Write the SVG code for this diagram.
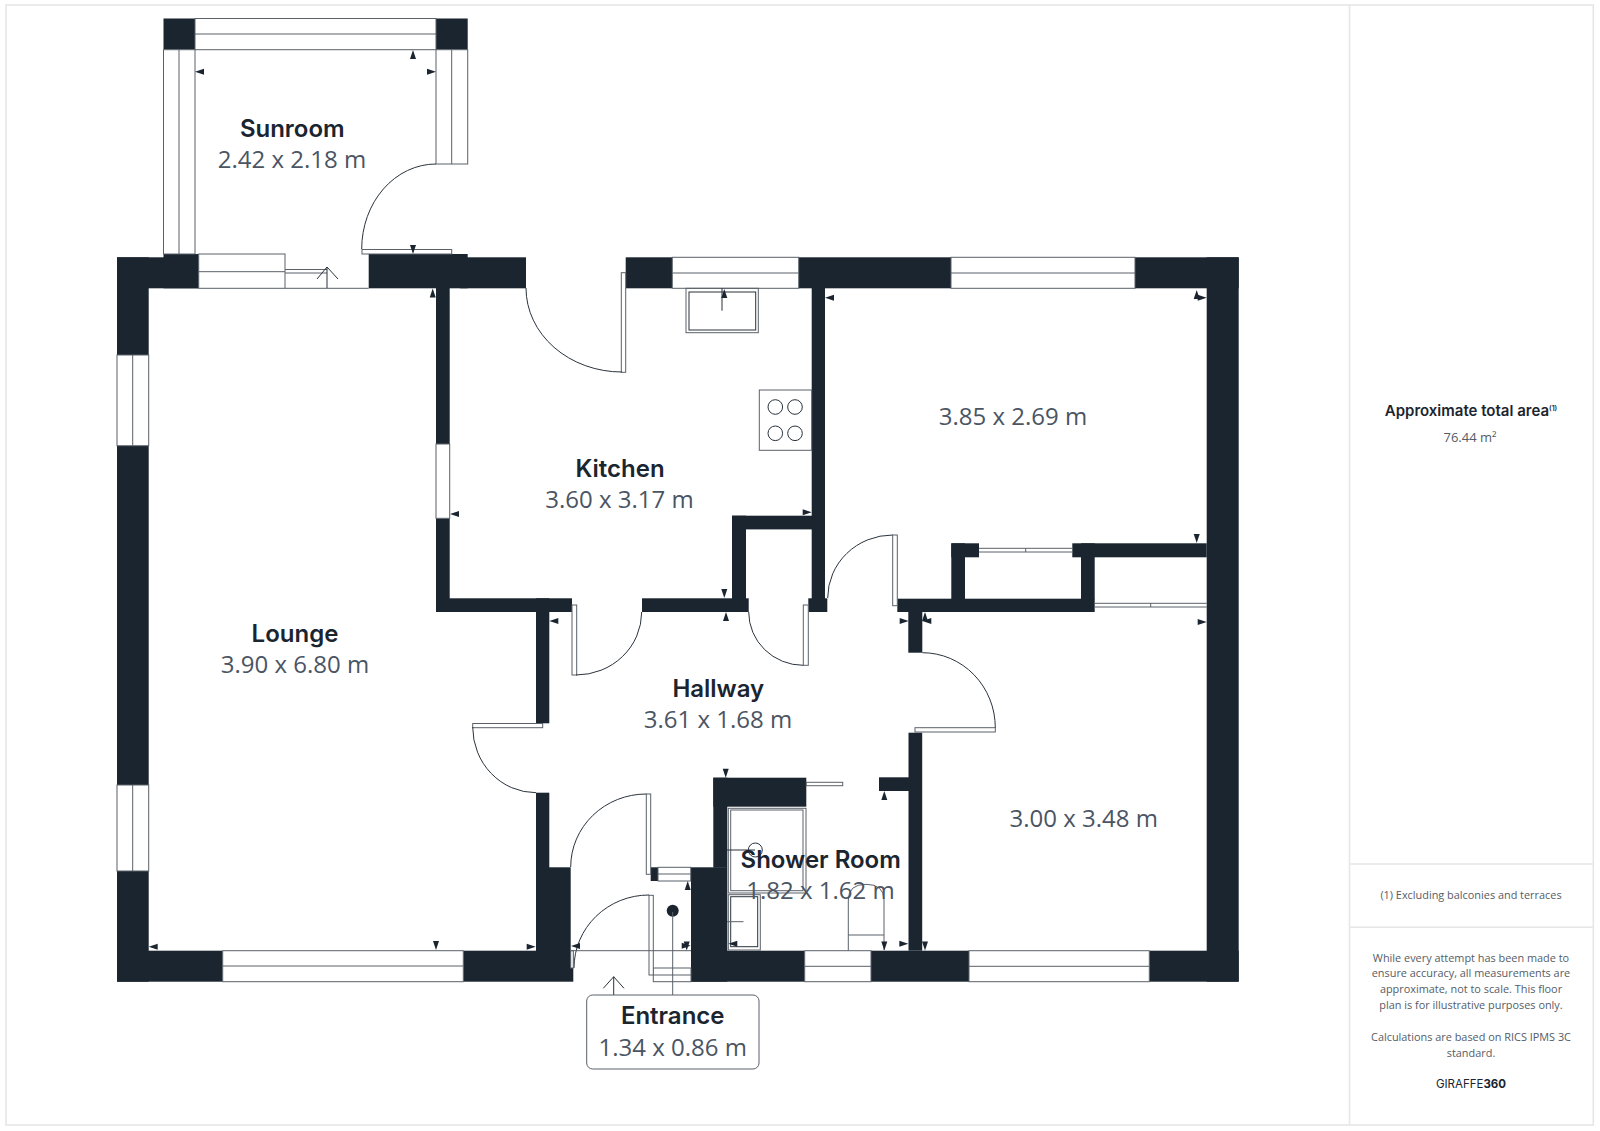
<svg xmlns="http://www.w3.org/2000/svg" width="1600" height="1131" viewBox="0 0 1600 1131">
<style>
.w{fill:#1b2530}
.g{fill:#fff;stroke:#5a6169;stroke-width:1}
.m{fill:none;stroke:#5a6169;stroke-width:1}
.l{fill:none;stroke:#2a333d;stroke-width:1}
.f{fill:none;stroke:#e6e6e6;stroke-width:1.6}
.a{fill:#1b2530}
.t{font-family:"Inter","Liberation Sans",sans-serif;font-weight:600;font-size:24px;fill:#1b2530;text-anchor:middle}
.d{font-family:"Open Sans","Liberation Sans",sans-serif;font-size:24px;fill:#4b5563;text-anchor:middle}
.s{font-family:"Open Sans","Liberation Sans",sans-serif;font-size:10.9px;fill:#555c66;text-anchor:middle}
</style>
<defs><path id="ar" d="M0 0L9 -3V3Z"/></defs>
<rect width="1600" height="1131" fill="#fff"/>
<g id="frame">
<rect class="f" x="6" y="5" width="1587.3" height="1120"/>
<path class="f" d="M1349.5 5V1125M1349.5 864H1593M1349.5 927.3H1593"/>
</g>
<g id="walls">
<rect class="w" x="117" y="257.3" width="31.7" height="97.7"/>
<rect class="w" x="117" y="445.7" width="31.7" height="339.3"/>
<rect class="w" x="117" y="871" width="31.7" height="110.7"/>
<rect class="w" x="117" y="257.3" width="81.7" height="31"/>
<rect class="w" x="163.5" y="254" width="35.2" height="34.3"/>
<rect class="w" x="368.7" y="254" width="99" height="34.3"/>
<rect class="w" x="460" y="257.3" width="66" height="31"/>
<rect class="w" x="625.7" y="257.3" width="46.6" height="31"/>
<rect class="w" x="798.7" y="257.3" width="152.3" height="31"/>
<rect class="w" x="1135" y="257.3" width="103.7" height="31"/>
<rect class="w" x="1206.7" y="257.3" width="32" height="724.4"/>
<rect class="w" x="117" y="950.7" width="105.7" height="31"/>
<rect class="w" x="463.3" y="950.7" width="110" height="31"/>
<rect class="w" x="691" y="867.3" width="36.3" height="114.4"/>
<rect class="w" x="691" y="950.7" width="113.7" height="31"/>
<rect class="w" x="871" y="950.7" width="98" height="31"/>
<rect class="w" x="1149.3" y="950.7" width="89.4" height="31"/>
<rect class="w" x="436" y="288" width="13.7" height="156"/>
<rect class="w" x="436" y="518.3" width="13.7" height="93.7"/>
<rect class="w" x="436" y="598.3" width="136" height="13.7"/>
<rect class="w" x="536" y="598.3" width="13.3" height="125"/>
<rect class="w" x="536" y="792.7" width="13.3" height="160"/>
<rect class="w" x="545" y="867.3" width="25.7" height="85"/>
<rect class="w" x="642" y="598.3" width="106.7" height="13.7"/>
<rect class="w" x="732" y="515.7" width="14" height="96"/>
<rect class="w" x="732" y="515.7" width="80" height="13.7"/>
<rect class="w" x="811.7" y="288" width="13.3" height="312"/>
<rect class="w" x="808.3" y="598.3" width="19" height="13.7"/>
<rect class="w" x="897.3" y="598.7" width="197.4" height="13.3"/>
<rect class="w" x="951.3" y="543.3" width="13.7" height="56"/>
<rect class="w" x="951.3" y="543.3" width="27.7" height="14"/>
<rect class="w" x="1072.3" y="543.3" width="134.4" height="14"/>
<rect class="w" x="1081" y="543.3" width="13.7" height="56"/>
<rect class="w" x="908.3" y="612" width="14" height="40.7"/>
<rect class="w" x="908.5" y="732.7" width="13.7" height="218"/>
<rect class="w" x="879" y="777.3" width="30" height="13.7"/>
<rect class="w" x="713.3" y="777.7" width="14" height="90"/>
<rect class="w" x="713.3" y="777.7" width="93" height="29"/>
<rect class="w" x="650.7" y="867.3" width="7.3" height="13.7"/>
<rect class="w" x="163.5" y="18.5" width="31.5" height="31.2"/>
<rect class="w" x="436" y="18.5" width="31.7" height="31.2"/>
</g>
<g id="windows">
<rect class="g" x="195" y="18.5" width="241" height="31.2"/><path class="m" d="M195 34H436"/>
<rect class="g" x="163.5" y="49.7" width="31.5" height="204.3"/><path class="m" d="M179 49.7V254"/>
<rect class="g" x="436" y="49.7" width="31.7" height="114.3"/><path class="m" d="M451.7 49.7V164"/>
<rect class="g" x="198.7" y="254" width="86.3" height="34.3"/><path class="m" d="M198.7 271.7H285"/>
<rect class="g" x="672.3" y="257.3" width="126.4" height="31"/><path class="m" d="M672.3 273H798.7"/>
<rect class="g" x="951" y="257.3" width="184" height="31"/><path class="m" d="M951 273H1135"/>
<rect class="g" x="117" y="355" width="31.7" height="90.7"/><path class="m" d="M132.7 355V445.7"/>
<rect class="g" x="117" y="785" width="31.7" height="86"/><path class="m" d="M132.7 785V871"/>
<rect class="g" x="436" y="444" width="13.7" height="74.3"/>
<rect class="g" x="222.7" y="950.7" width="240.6" height="31"/><path class="m" d="M222.7 966H463.3"/>
<rect class="g" x="804.7" y="950.7" width="66.3" height="31"/><path class="m" d="M804.7 966.3H871"/>
<rect class="g" x="969" y="950.7" width="180.3" height="31"/><path class="m" d="M969 966.3H1149.3"/>
<rect class="g" x="658" y="867.3" width="32.7" height="13.7"/><path class="m" d="M658 874H690.7"/>
<rect class="g" x="653.3" y="968" width="37.7" height="13.7"/><path class="m" d="M653.3 975H691"/>
</g>
<g id="doors">
<rect class="g" x="362" y="249.5" width="89.7" height="4.5"/><path class="l" d="M436 164A74.3 85 0 0 0 361.7 249"/>
<rect class="g" x="621.3" y="272.7" width="4.4" height="99.6"/><path class="l" d="M526 288A96 84 0 0 0 622 372"/>
<rect class="g" x="572" y="605" width="4.7" height="70"/><path class="l" d="M576 675A65.7 63 0 0 0 641.7 612"/>
<rect class="g" x="803.3" y="605" width="5" height="60.3"/><path class="l" d="M803.3 665.3A54.6 53.3 0 0 1 748.7 612"/>
<rect class="g" x="892.7" y="535" width="4.6" height="70.7"/><path class="l" d="M892.7 535A65 63 0 0 0 827.7 598"/>
<rect class="g" x="915" y="727.7" width="80.3" height="4.3"/><path class="l" d="M922.3 652.7A73 75 0 0 1 995.3 727.7"/>
<rect class="g" x="472.7" y="723.5" width="70" height="4.2"/><path class="l" d="M472.7 727A63.3 65.7 0 0 0 536 792.7"/>
<rect class="g" x="646.3" y="794" width="4.4" height="80.3"/><path class="l" d="M646.3 794A75.6 73 0 0 0 570.7 867"/>
<rect class="g" x="649" y="895.3" width="4.3" height="79.7"/><path class="l" d="M649 895A75 73 0 0 0 574 968"/>
<rect class="g" x="570.7" y="950.7" width="2.6" height="17.3"/>
<rect class="g" x="806.3" y="782.3" width="36.4" height="3.4"/>
<path class="m" d="M979 548.3H1072.3M979 552H1072.3M1025.7 548.3V552"/>
<path class="m" d="M1094.7 603.3H1206.7M1094.7 607H1206.7M1150.7 603.3V607"/>
<path class="m" d="M285 269.5H327M285 273H327M285 288.3H368.7M570.7 950.7H691"/>
<path class="l" d="M327 288V267M317 279L327 267L338 279"/>
<path class="l" d="M613.7 995V976.7M603.3 988.3L613.7 976.7L624 988.3"/>
</g>
<g id="fixtures">
<rect class="m" x="686" y="288.3" width="72.3" height="44.4"/>
<rect class="l" x="689" y="292" width="66.7" height="38"/>
<path class="l" d="M722 288V310.7"/>
<rect class="m" x="759.3" y="390" width="52.4" height="60.3"/>
<g class="l"><circle cx="775.3" cy="407" r="7.3"/><circle cx="795" cy="407" r="7.3"/><circle cx="775.3" cy="433.3" r="7.3"/><circle cx="795" cy="433.3" r="7.3"/></g>
<rect class="m" x="728.3" y="808.3" width="77.7" height="84.7"/>
<rect class="m" x="730.7" y="810" width="72.3" height="80.7"/>
<circle class="l" cx="755.3" cy="850" r="7"/><path class="l" d="M727 850H755"/>
<rect class="m" x="728.3" y="894.7" width="32" height="55.3"/>
<rect class="l" x="730.7" y="896.7" width="27" height="50"/>
<path class="m" d="M727 921.7H743.5"/>
<path class="m" d="M848.3 950.7V900Q848.3 884.3 866 884.3Q884 884.3 884 900V950M848.3 935H884"/>
<circle class="a" cx="672.7" cy="910.7" r="6"/>
<path class="m" d="M672.7 912V995"/>
</g>
<g id="dimension-arrows" class="a">
<use href="#ar" transform="translate(195 71.7)"/>
<use href="#ar" transform="translate(436 71.7) rotate(180)"/>
<use href="#ar" transform="translate(413 50) rotate(90)"/>
<use href="#ar" transform="translate(413 254) rotate(-90)"/>
<use href="#ar" transform="translate(432.7 288.6) rotate(90)"/>
<use href="#ar" transform="translate(148.7 946.7)"/>
<use href="#ar" transform="translate(535.7 946.7) rotate(180)"/>
<use href="#ar" transform="translate(436 950) rotate(-90)"/>
<use href="#ar" transform="translate(724.3 289) rotate(90)"/>
<use href="#ar" transform="translate(825 297.7)"/>
<use href="#ar" transform="translate(1206.7 297.7) rotate(180)"/>
<use href="#ar" transform="translate(1196.7 290) rotate(90)"/>
<use href="#ar" transform="translate(1196.7 543) rotate(-90)"/>
<use href="#ar" transform="translate(811.7 512.3) rotate(180)"/>
<use href="#ar" transform="translate(450 514)"/>
<use href="#ar" transform="translate(724.3 598) rotate(-90)"/>
<use href="#ar" transform="translate(726 612) rotate(90)"/>
<use href="#ar" transform="translate(549.3 621)"/>
<use href="#ar" transform="translate(908.7 621) rotate(180)"/>
<use href="#ar" transform="translate(925 612) rotate(90)"/>
<use href="#ar" transform="translate(922.3 621)"/>
<use href="#ar" transform="translate(1206.7 622) rotate(180)"/>
<use href="#ar" transform="translate(725.7 777.7) rotate(-90)"/>
<use href="#ar" transform="translate(884.3 791) rotate(90)"/>
<use href="#ar" transform="translate(884.3 950.5) rotate(-90)"/>
<use href="#ar" transform="translate(908.3 943.7) rotate(180)"/>
<use href="#ar" transform="translate(728.3 943.7)"/>
<use href="#ar" transform="translate(925 950.5) rotate(-90)"/>
<use href="#ar" transform="translate(687.7 881) rotate(90)"/>
<use href="#ar" transform="translate(690.7 945.7) rotate(180)"/>
<use href="#ar" transform="translate(686.7 950.5) rotate(-90)"/>
<use href="#ar" transform="translate(571 946)"/>
</g>
<g id="labels">
<rect x="586.7" y="995" width="172.3" height="74" rx="6" fill="#fff" stroke="#5a6169" stroke-width="1"/>
<text class="t" x="292.3" y="136.7">Sunroom</text><text class="d" x="292" y="167.7">2.42 x 2.18 m</text>
<text class="t" x="620" y="476.7">Kitchen</text><text class="d" x="619.5" y="507.7">3.60 x 3.17 m</text>
<text class="d" x="1012.9" y="425">3.85 x 2.69 m</text>
<text class="t" x="295" y="641.5">Lounge</text><text class="d" x="295" y="672.7">3.90 x 6.80 m</text>
<text class="t" x="718.3" y="696.7">Hallway</text><text class="d" x="718" y="727.7">3.61 x 1.68 m</text>
<text class="t" x="820.7" y="867.8">Shower Room</text><text class="d" x="820.5" y="899.3">1.82 x 1.62 m</text>
<text class="d" x="1083.7" y="826.5">3.00 x 3.48 m</text>
<text class="t" x="672.7" y="1023.5">Entrance</text><text class="d" x="672.7" y="1056">1.34 x 0.86 m</text>
</g>
<g id="panel">
<text x="1471" y="416" style="font-family:Inter,'Liberation Sans',sans-serif;font-weight:600;font-size:15px;fill:#1b2530;text-anchor:middle">Approximate total area<tspan font-size="7" dy="-5">(1)</tspan></text>
<text class="s" x="1470" y="442" style="font-size:13px">76.44 m²</text>
<text class="s" x="1471" y="899">(1) Excluding balconies and terraces</text>
<text class="s" x="1471" y="961.7">While every attempt has been made to</text>
<text class="s" x="1471" y="977.3">ensure accuracy, all measurements are</text>
<text class="s" x="1471" y="993.3">approximate, not to scale. This floor</text>
<text class="s" x="1471" y="1009.3">plan is for illustrative purposes only.</text>
<text class="s" x="1471" y="1040.7">Calculations are based on RICS IPMS 3C</text>
<text class="s" x="1471" y="1056.7">standard.</text>
<text x="1471" y="1088" style="font-family:Inter,'Liberation Sans',sans-serif;font-size:11.5px;fill:#1b2530;text-anchor:middle">GIRAFFE<tspan font-weight="700">360</tspan></text>
</g>
</svg>
